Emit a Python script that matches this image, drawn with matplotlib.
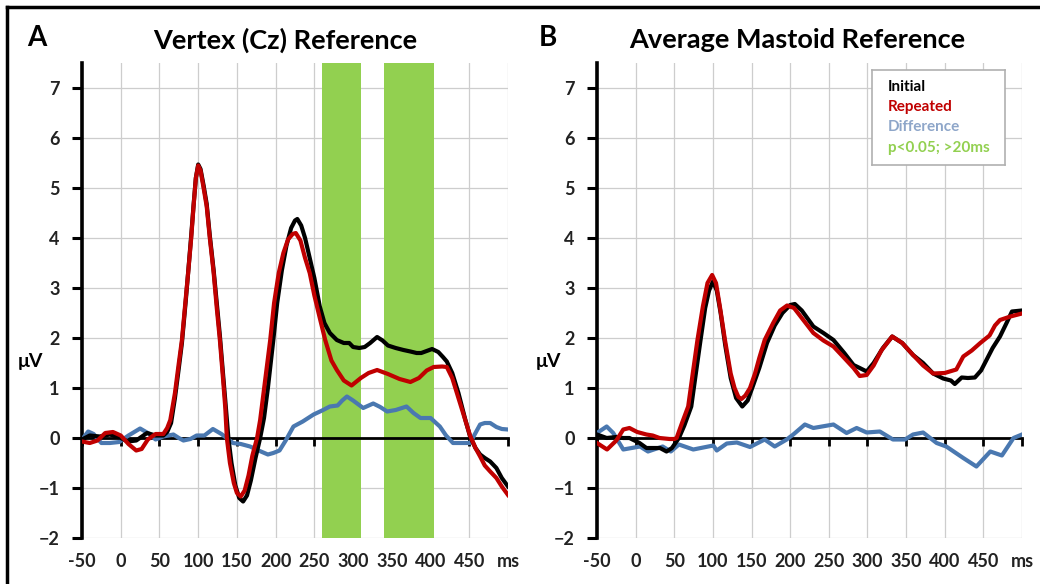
import matplotlib
matplotlib.use("Agg")
import matplotlib.pyplot as plt
from matplotlib.lines import Line2D

plt.rcParams['font.family'] = ['Lato', 'DejaVu Sans']
plt.rcParams['font.weight'] = 'bold'

# ---------------- data ----------------
x_ticks = [-50, 0, 50, 100, 150, 200, 250, 300, 350, 400, 450, 500]
x_tick_labels = ['-50', '0', '50', '100', '150', '200', '250', '300', '350', '400', '450', 'ms']
y_ticks = [-2, -1, 0, 1, 2, 3, 4, 5, 6, 7]

# significant windows (panel A)
sig_windows = [(260, 310), (340, 405)]

# Panel A: Vertex (Cz) reference
a_rep_t = [-50, -40, -30, -20, -10, 0, 10, 20, 27, 35, 45, 55, 60, 64, 70, 75, 79, 84, 87, 91, 94, 97, 100,
           103, 107, 111, 115, 120, 124, 128, 132, 135, 137, 141, 146, 150, 155, 160, 165, 170, 176, 180,
           186, 193, 198, 204, 210, 216, 222, 226, 232, 238, 244, 250, 257, 264, 272, 279, 288, 298, 310,
           320, 331, 345, 360, 374, 385, 395, 404, 415, 421, 428, 436, 444, 451, 458, 464, 470, 477, 485,
           492, 500]
a_rep_v = [-0.07, -0.1, -0.05, 0.1, 0.12, 0.05, -0.12, -0.25, -0.22, -0.03, 0.08, 0.08, 0.2, 0.36, 0.9, 1.5,
           1.96, 2.8, 3.3, 4.0, 4.63, 5.2, 5.45, 5.35, 5.0, 4.63, 4.0, 3.3, 2.6, 1.96, 1.2, 0.6, 0.0, -0.5,
           -0.9, -1.1, -1.17, -1.05, -0.75, -0.35, 0.0, 0.36, 1.1, 1.96, 2.7, 3.3, 3.7, 3.97, 4.08, 4.1, 3.95,
           3.6, 3.3, 2.85, 2.4, 1.96, 1.55, 1.36, 1.15, 1.05, 1.2, 1.3, 1.36, 1.28, 1.18, 1.12, 1.2, 1.35,
           1.42, 1.43, 1.42, 1.2, 0.8, 0.4, 0.05, -0.2, -0.37, -0.55, -0.67, -0.8, -0.97, -1.14]

a_ini_t = [-50, -40, -27, -14, 0, 9, 20, 34, 45, 55, 60, 65, 70, 75, 79, 84, 87, 91, 94, 97, 100, 103, 107,
           111, 115, 120, 124, 128, 132, 135, 139, 143, 148, 153, 158, 163, 168, 174, 180, 185, 190, 197,
           202, 208, 214, 220, 225, 228, 233, 238, 244, 250, 257, 263, 270, 279, 288, 295, 300, 308, 315,
           322, 331, 338, 345, 355, 365, 374, 382, 388, 395, 402, 410, 416, 421, 428, 436, 445, 451, 458,
           464, 470, 477, 485, 492, 500]
a_ini_v = [-0.03, 0.05, 0.03, 0.07, 0.0, -0.07, -0.05, 0.1, 0.05, 0.05, 0.12, 0.3, 0.8, 1.4, 1.9, 2.75, 3.3,
           4.05, 4.65, 5.2, 5.47, 5.38, 5.05, 4.68, 4.05, 3.35, 2.7, 2.05, 1.3, 0.75, 0.0, -0.5, -0.95, -1.2,
           -1.27, -1.15, -0.85, -0.4, 0.0, 0.4, 1.0, 1.96, 2.7, 3.35, 3.85, 4.2, 4.35, 4.38, 4.25, 4.0, 3.6,
           3.2, 2.63, 2.3, 2.1, 1.96, 1.9, 1.9, 1.82, 1.8, 1.82, 1.9, 2.02, 1.95, 1.85, 1.8, 1.76, 1.73, 1.7,
           1.7, 1.74, 1.78, 1.72, 1.62, 1.53, 1.3, 0.9, 0.36, 0.03, -0.2, -0.33, -0.4, -0.47, -0.6, -0.8, -0.97]

a_dif_t = [-50, -42, -35, -25, -14, -2, 10, 25, 35, 45, 55, 68, 75, 81, 90, 98, 108, 119, 130, 145, 155, 167,
           178, 190, 197, 205, 213, 223, 235, 249, 260, 270, 280, 286, 292, 300, 313, 326, 335, 344, 355,
           369, 378, 387, 400, 412, 420, 429, 440, 451, 458, 464, 470, 477, 485, 492, 500]
a_dif_v = [-0.03, 0.13, 0.08, -0.1, -0.1, -0.08, 0.05, 0.19, 0.1, -0.03, 0.03, 0.07, 0.0, -0.05, -0.02, 0.05,
           0.05, 0.18, 0.08, -0.1, -0.12, -0.17, -0.25, -0.33, -0.3, -0.25, -0.05, 0.23, 0.33, 0.47, 0.55,
           0.63, 0.65, 0.75, 0.83, 0.75, 0.6, 0.69, 0.62, 0.53, 0.56, 0.63, 0.5, 0.4, 0.4, 0.23, 0.05, -0.1,
           -0.1, -0.1, 0.1, 0.27, 0.3, 0.3, 0.22, 0.18, 0.17]

# Panel B: Average mastoid reference
b_rep_t = [-50, -37, -25, -16, -8, 2, 14, 22, 31, 44, 50, 53, 60, 68, 74, 80, 87, 93, 99, 104, 109, 115.6,
           123, 128, 133, 137, 142, 148, 154.5, 160, 167, 178, 187, 196, 205, 215, 230, 243, 256, 270, 282,
           290, 299, 308, 318, 332, 345, 359, 372, 385, 400, 415, 424, 435, 446, 458, 465, 471.5, 485, 500]
b_rep_v = [-0.1, -0.23, -0.05, 0.17, 0.2, 0.12, 0.07, 0.05, 0.0, -0.02, -0.02, 0.0, 0.3, 0.63, 1.3, 1.96,
           2.63, 3.1, 3.26, 3.1, 2.63, 1.96, 1.29, 1.0, 0.82, 0.78, 0.85, 1.0, 1.29, 1.6, 1.96, 2.3, 2.55,
           2.65, 2.6, 2.4, 2.1, 1.95, 1.83, 1.6, 1.4, 1.24, 1.26, 1.45, 1.75, 2.03, 1.9, 1.66, 1.45, 1.29,
           1.3, 1.37, 1.63, 1.75, 1.9, 2.05, 2.25, 2.36, 2.43, 2.49]

b_ini_t = [-50, -37.5, -25, -16, -8, 5, 14, 31.5, 40, 47, 56, 63, 72, 78, 84, 90, 95, 100, 105, 110, 116,
           123, 130, 138, 145, 152, 160, 170, 180, 190, 200, 206, 215, 230, 243, 256, 270, 282, 290, 299,
           308, 320, 332, 345, 359, 372, 385, 398, 408, 413, 422, 430, 439, 447, 454, 462, 471.5, 480, 487, 500]
b_ini_v = [0.07, 0.0, 0.02, 0.0, 0.0, -0.1, -0.2, -0.2, -0.27, -0.2, 0.0, 0.25, 0.63, 1.3, 1.96, 2.6, 2.95,
           3.13, 2.95, 2.5, 1.85, 1.2, 0.8, 0.63, 0.75, 1.05, 1.4, 1.9, 2.25, 2.5, 2.66, 2.68, 2.55, 2.23,
           2.1, 1.96, 1.7, 1.46, 1.4, 1.33, 1.5, 1.8, 2.03, 1.9, 1.66, 1.5, 1.29, 1.19, 1.15, 1.08, 1.21,
           1.2, 1.21, 1.35, 1.56, 1.8, 2.03, 2.3, 2.53, 2.55]

b_dif_t = [-50, -37.5, -29, -16, 5.6, 16, 35, 45.5, 56, 74.6, 100.5, 105, 118, 131, 148, 167, 180, 195.5,
           204, 219, 230, 256, 273, 286, 299, 316, 333, 348.5, 359, 372, 389.5, 402, 424, 441, 459, 474,
           489, 500]
b_dif_v = [0.1, 0.23, 0.1, -0.23, -0.17, -0.27, -0.17, -0.27, -0.13, -0.23, -0.15, -0.25, -0.11, -0.09,
           -0.18, -0.03, -0.17, -0.03, 0.07, 0.27, 0.2, 0.27, 0.1, 0.2, 0.11, 0.13, -0.03, -0.03, 0.07, 0.11,
           -0.1, -0.17, -0.4, -0.57, -0.27, -0.35, 0.0, 0.07]

# ---------------- style ----------------
C_INI = '#000000'
C_REP = '#C00000'
C_DIF = '#4A78B0'
C_DIF_TXT = '#8EA6C9'
C_SIG = '#92D050'
GRID = '#CDCDCD'
TICK_FS = 13

W, H = 1040, 584
fig = plt.figure(figsize=(W / 100, H / 100), dpi=100)


def px_axes(left, right, top, bottom):
    return fig.add_axes([left / W, 1 - bottom / H, (right - left) / W, (bottom - top) / H])


def setup(ax):
    ax.set_xlim(-50, 500)
    ax.set_ylim(-2, 7.5)
    ax.set_xticks(x_ticks)
    ax.set_yticks(y_ticks)
    ax.grid(True, color=GRID, linewidth=0.9)
    ax.set_axisbelow(True)
    for s in ['top', 'right']:
        ax.spines[s].set_visible(False)
    ax.spines['left'].set_linewidth(2.6)
    ax.spines['left'].set_bounds(-2, 7.5)
    ax.spines['bottom'].set_position(('data', 0))
    ax.spines['bottom'].set_linewidth(2.0)
    ax.tick_params(axis='x', direction='out', length=6, width=2.0, labelbottom=False)
    ax.tick_params(axis='y', direction='out', length=7, width=2.2, labelsize=TICK_FS, pad=9,
                   labelcolor='#222222')
    for lab in ax.get_yticklabels():
        lab.set_fontweight('bold')
    sec = ax.secondary_xaxis('bottom')
    sec.set_xticks(x_ticks, x_tick_labels)
    sec.spines['bottom'].set_visible(False)
    sec.tick_params(length=0, labelsize=TICK_FS, pad=11, labelcolor='#222222')
    for lab in sec.get_xticklabels():
        lab.set_fontweight('bold')


axA = px_axes(82, 508, 63, 538)
axB = px_axes(597, 1022, 63, 538)
setup(axA)
setup(axB)

for lo, hi in sig_windows:
    axA.axvspan(lo, hi, color=C_SIG, zorder=1, linewidth=0)

lw = 3.0
axA.plot(a_dif_t, a_dif_v, color=C_DIF, lw=lw, zorder=3)
axA.plot(a_ini_t, a_ini_v, color=C_INI, lw=lw, zorder=4)
axA.plot(a_rep_t, a_rep_v, color=C_REP, lw=lw, zorder=5)

axB.plot(b_dif_t, b_dif_v, color=C_DIF, lw=lw, zorder=3)
axB.plot(b_ini_t, b_ini_v, color=C_INI, lw=lw, zorder=4)
axB.plot(b_rep_t, b_rep_v, color=C_REP, lw=lw, zorder=5)

# titles and panel letters
fig.text(285 / W, 1 - 40 / H, 'Vertex (Cz) Reference', ha='center', va='center', fontsize=19.5, fontweight='bold')
fig.text(797 / W, 1 - 40 / H, 'Average Mastoid Reference', ha='center', va='center', fontsize=19.5, fontweight='bold')
fig.text(37 / W, 1 - 38 / H, 'A', ha='center', va='center', fontsize=20, fontweight='bold')
fig.text(548 / W, 1 - 38 / H, 'B', ha='center', va='center', fontsize=20, fontweight='bold')
fig.text(30 / W, 1 - 362 / H, 'μV', ha='center', va='center', fontsize=14, fontweight='bold')
fig.text(548 / W, 1 - 362 / H, 'μV', ha='center', va='center', fontsize=14, fontweight='bold')

# legend box in panel B
leg_ax = px_axes(872, 1005, 70, 165)
leg_ax.set_xticks([]); leg_ax.set_yticks([])
leg_ax.set_xlim(0, 1); leg_ax.set_ylim(0, 1)
for s in leg_ax.spines.values():
    s.set_color('#B0B0B0'); s.set_linewidth(1.2)
leg_ax.set_zorder(10)
leg_items = [('Initial', C_INI, 87), ('Repeated', C_REP, 107), ('Difference', C_DIF_TXT, 127),
             ('p<0.05; >20ms', C_SIG, 148)]
for txt, col, ypx in leg_items:
    fig.text(888 / W, 1 - ypx / H, txt, color=col, ha='left', va='center', fontsize=11,
             fontweight='bold', zorder=11)

# figure frame (top and left)
fig.add_artist(Line2D([7 / W, 7 / W], [0, 1 - 7 / H], color='black', lw=2.5))
fig.add_artist(Line2D([7 / W, 1], [1 - 7 / H, 1 - 7 / H], color='black', lw=2.5))

fig.savefig('out.png', dpi=100)
